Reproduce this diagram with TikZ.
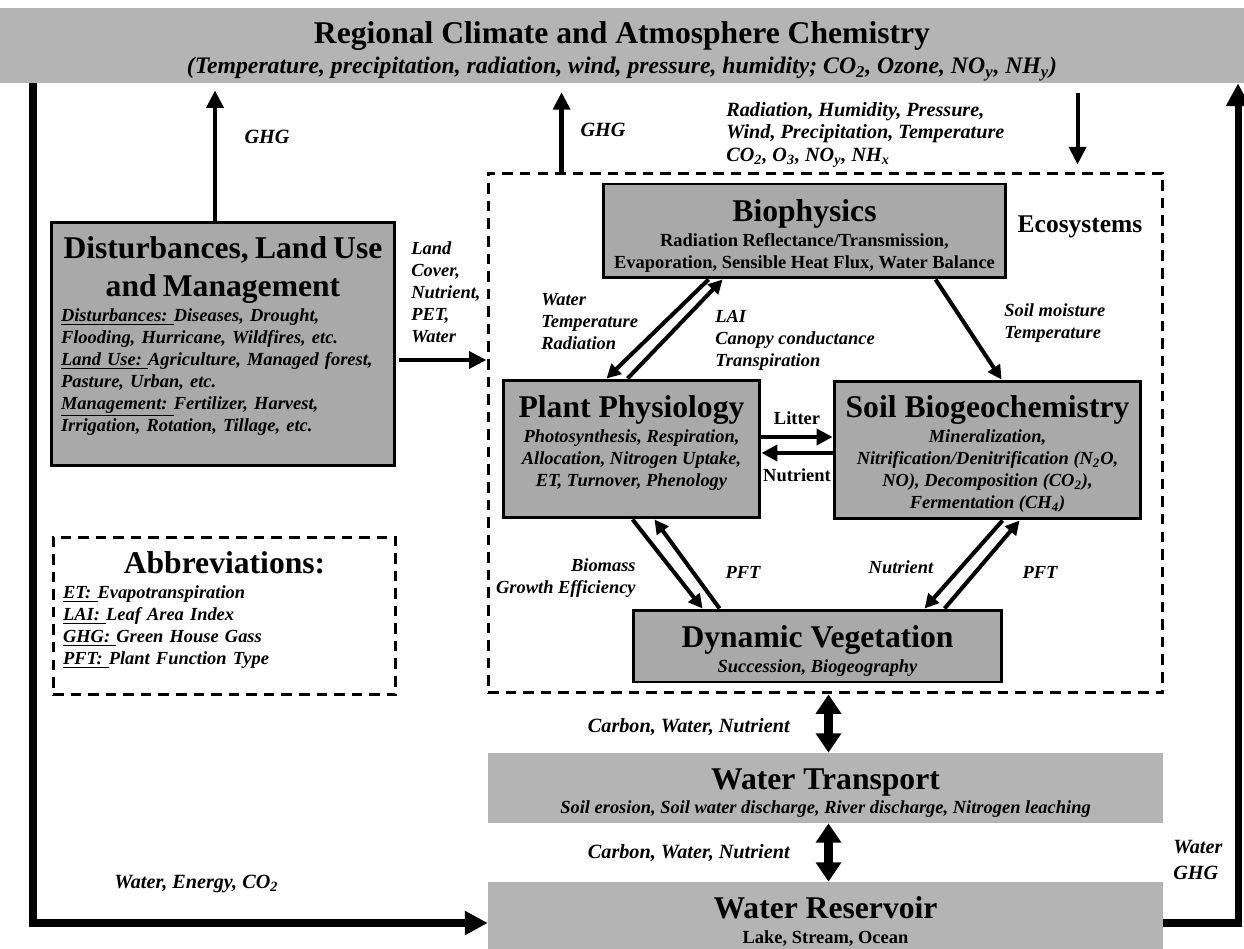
\documentclass[tikz,border=0pt]{standalone}
\usepackage{fontspec}
\setmainfont{Liberation Serif}
\usepackage{tikz}
\usetikzlibrary{arrows.meta, positioning, calc}

\definecolor{boxgray}{HTML}{A9A9A9}
\definecolor{bandgray}{HTML}{B4B4B4}

\newcommand{\titlefont}{\fontsize{18}{21.5}\selectfont}
\newcommand{\subfont}{\fontsize{10.5}{12.5}\selectfont}
\newcommand{\lblfont}{\fontsize{11.5}{13}\selectfont}

\begin{document}
\begin{tikzpicture}[x=0.02cm, y=-0.02cm,
    >={Triangle[length=8pt, width=8pt]},
    graybox/.style={draw, line width=1.7pt, fill=boxgray, align=center, inner sep=0pt, font=\bfseries\subfont},
    flatbox/.style={fill=bandgray, align=center, inner sep=0pt, font=\bfseries\subfont},
    dashbox/.style={draw, line width=1.7pt, dash pattern=on 6pt off 4pt, inner sep=0pt},
    lbl/.style={font=\bfseries\itshape\subfont, align=left, inner sep=0pt},
    biglbl/.style={font=\bfseries\itshape\lblfont, align=left, inner sep=0pt},
    flow/.style={line width=2.3pt, ->},
    ghgarrow/.style={line width=2.8pt, -{Triangle[length=10pt, width=9.5pt]}},
    loopline/.style={line width=4pt, -{Triangle[length=13pt, width=13pt]}},
    dbl/.style={line width=5pt, {Triangle[length=11pt, width=14pt]}-{Triangle[length=11pt, width=14pt]}}]
        \useasboundingbox (0,0) rectangle (1244,949);

        % Climate band
        \node (climate) [flatbox, minimum width=24.88cm, minimum height=1.5cm, font=\bfseries\itshape\fontsize{13.5}{16}\selectfont] at (622,45.5) {{\upshape\titlefont\rule{0pt}{19pt}Regional Climate and Atmosphere Chemistry}\\[1pt] (Temperature, precipitation, radiation, wind, pressure, humidity; CO\textsubscript{2}, Ozone, NO\textsubscript{y}, NH\textsubscript{y})};

        % Disturbances
        \node (dist) [graybox, minimum width=6.88cm, minimum height=4.88cm, text width=6.48cm, align=left, font=\bfseries\itshape\subfont] at (223,344) {{\upshape\titlefont\centering Disturbances, Land Use\\ and Management\par}\vspace{2pt}
            \underline{Disturbances:\ }Diseases, Drought,\\
            Flooding, Hurricane, Wildfires, etc.\\
            \underline{Land Use:\ }Agriculture, Managed forest,\\
            Pasture, Urban, etc.\\
            \underline{Management:\ }Fertilizer, Harvest,\\
            Irrigation, Rotation, Tillage, etc.\rule[-11.5pt]{0pt}{11.5pt}};

        % Abbreviations
        \node (abbr) [dashbox, minimum width=6.86cm, minimum height=3.16cm, text width=6.46cm, align=left, font=\bfseries\itshape\subfont] at (224.5,616) {{\upshape\titlefont\centering Abbreviations:\par}\vspace{2pt}
            \underline{ET:\ }Evapotranspiration\\
            \underline{LAI:\ }Leaf Area Index\\
            \underline{GHG:\ }Green House Gass\\
            \underline{PFT:\ }Plant Function Type\rule[-9pt]{0pt}{9pt}};

        % Ecosystems
        \node (eco) [dashbox, minimum width=13.5cm, minimum height=10.4cm] at (825.5,433) {};
        \node (ecolabel) [font=\bfseries\fontsize{14.5}{16}\selectfont, inner sep=0pt] at (1080,227) {Ecosystems};

        \node (bio) [graybox, minimum width=8.06cm, minimum height=1.88cm] at (804.5,231) {{\titlefont\rule{0pt}{18pt}Biophysics}\\[2pt] Radiation Reflectance/Transmission,\\ Evaporation, Sensible Heat Flux, Water Balance};

        \node (pp) [graybox, minimum width=5.14cm, minimum height=2.76cm, font=\bfseries\itshape\subfont] at (631.5,449) {{\upshape\titlefont Plant Physiology}\\[2pt] Photosynthesis, Respiration,\\ Allocation, Nitrogen Uptake,\\ ET, Turnover, Phenology\rule[-9pt]{0pt}{9pt}};

        \node (soil) [graybox, minimum width=6.14cm, minimum height=2.76cm, font=\bfseries\itshape\subfont] at (987.5,450) {{\upshape\titlefont\rule{0pt}{17pt}Soil Biogeochemistry}\\[2pt] Mineralization,\\ Nitrification/Denitrification (N\textsubscript{2}O,\\ NO), Decomposition (CO\textsubscript{2}),\\ Fermentation (CH\textsubscript{4})};

        \node (dynveg) [graybox, minimum width=7.38cm, minimum height=1.44cm, font=\bfseries\itshape\subfont] at (817.5,646) {{\upshape\titlefont\rule{0pt}{18pt}Dynamic Vegetation}\\[2pt] Succession, Biogeography};

        % Water boxes
        \node (transport) [flatbox, minimum width=13.5cm, minimum height=1.4cm, font=\bfseries\itshape\subfont] at (825.5,788) {{\upshape\titlefont\rule{0pt}{18pt}Water Transport}\\[1pt] Soil erosion, Soil water discharge, River discharge, Nitrogen leaching};
        \node (reservoir) [flatbox, minimum width=13.5cm, minimum height=1.34cm] at (825.5,915.5) {{\titlefont\rule{0pt}{19pt}Water Reservoir}\\[2pt] Lake, Stream, Ocean};

        % Labels
        \node (ghgleft) [biglbl] at (267,137) {GHG};
        \node (ghgmid) [biglbl] at (603,130) {GHG};
        \node (atmlbl) [biglbl, anchor=west] at (726,135) {Radiation, Humidity, Pressure,\\ Wind, Precipitation, Temperature\\ CO\textsubscript{2}, O\textsubscript{3}, NO\textsubscript{y}, NH\textsubscript{x}};
        \node (landlbl) [lbl, anchor=west] at (411,292) {Land\\ Cover,\\ Nutrient,\\ PET,\\ Water};
        \node (wtrlbl) [lbl, anchor=west] at (541,322) {Water\\ Temperature\\ Radiation};
        \node (lailbl) [lbl, anchor=west] at (715,340) {LAI\\ Canopy conductance\\ Transpiration};
        \node (moistlbl) [lbl, anchor=west] at (1004,323) {Soil moisture\\ Temperature};
        \node (litterlbl) [font=\bfseries\subfont, inner sep=0pt] at (797,418) {Litter};
        \node (nutrlbl) [font=\bfseries\subfont, inner sep=0pt] at (797,475) {Nutrient};
        \node (biomasslbl) [lbl, align=right, anchor=east] at (636,578) {Biomass\\ Growth Efficiency};
        \node (pftleft) [lbl] at (743,572) {PFT};
        \node (nutrdv) [lbl] at (901,567) {Nutrient};
        \node (pftright) [lbl] at (1040,572) {PFT};
        \node (cwnup) [biglbl, anchor=east] at (790,727) {Carbon, Water, Nutrient};
        \node (cwnlow) [biglbl, anchor=east] at (790,853) {Carbon, Water, Nutrient};
        \node (energylbl) [biglbl, anchor=west] at (114,884) {Water, Energy, CO\textsubscript{2}};
        \node (waterghg) [biglbl, anchor=west, font=\bfseries\itshape\fontsize{11.5}{14.5}\selectfont] at (1173,860) {Water\\ GHG};

        % Atmosphere arrows
        \coordinate (ghgfoot) at ($(dist.north)+(-8,0)$);
        \draw[ghgarrow, shorten >=4pt] (ghgfoot) -- (ghgfoot |- climate.south);
        \coordinate (ecoghg) at ($(eco.north west)+(75,0)$);
        \draw[ghgarrow, shorten >=5pt] (ecoghg) -- (ecoghg |- climate.south);
        \coordinate (atmfoot) at ($(eco.north west)+(591,0)$);
        \draw[ghgarrow, line width=2.3pt, shorten >=4pt] ($(atmfoot |- climate.south)+(0,10)$) -- (atmfoot);

        % Land use into ecosystems
        \coordinate (landin) at ($(dist.east)+(3,16)$);
        \draw[ghgarrow] (landin) -- (landin -| eco.west);

        % Inside ecosystems
        \draw[flow] ($(bio.south west)+(107,0)$) -- ($(pp.north west)+(105,0)$);
        \draw[flow] ($(pp.north west)+(126,0)$) -- ($(bio.south west)+(121,0)$);
        \draw[flow] ($(bio.south west)+(334,0)$) -- ($(soil.north west)+(169,0)$);
        \draw[flow] ($(pp.south west)+(131,0)$) -- ($(dynveg.north west)+(71,0)$);
        \draw[flow] ($(dynveg.north west)+(88,0)$) -- ($(pp.south west)+(153,0)$);
        \draw[flow] ($(soil.south west)+(170,0)$) -- ($(dynveg.north west)+(293,0)$);
        \draw[flow] ($(dynveg.north west)+(313,0)$) -- ($(soil.south west)+(187,0)$);
        \coordinate (litter) at ($(pp.east)+(0,-12)$);
        \coordinate (nutrback) at ($(pp.east)+(0,4)$);
        \draw[flow, line width=2.8pt, -{Triangle[length=9pt, width=9pt]}] (litter) -- (litter -| soil.west);
        \draw[flow, line width=2.8pt, -{Triangle[length=9pt, width=9pt]}] (nutrback -| soil.west) -- (nutrback);

        % Water exchange
        \draw[dbl] ($(eco.south)+(3,0)$) -- ($(transport.north)+(3,0)$);
        \draw[dbl] ($(transport.south)+(3,0)$) -- ($(reservoir.north)+(3,0)$);

        % Outer loop
        \coordinate (lc) at (33,923);
        \coordinate (rc) at (1238,923);
        \draw[loopline] (lc |- climate.south) -- (lc) -- (lc -| reservoir.west);
        \draw[loopline] (rc -| reservoir.east) -- (rc) -- (rc |- climate.south);
    \end{tikzpicture}
\end{document}
